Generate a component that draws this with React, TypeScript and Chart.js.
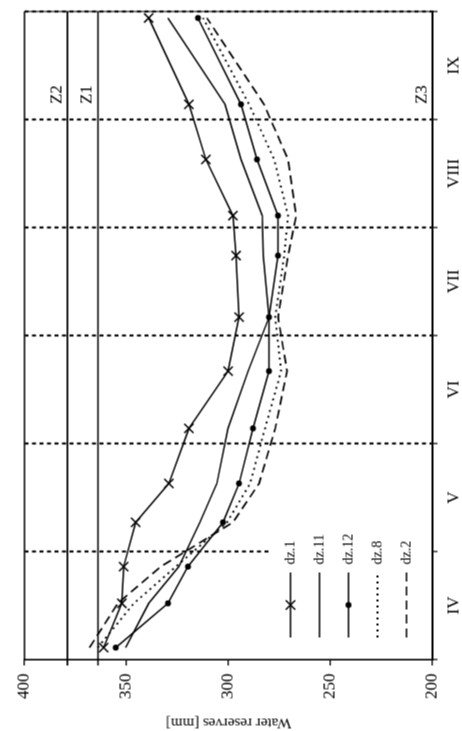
import React, { useEffect, useRef } from "react";
import { Chart, registerables } from "chart.js";

Chart.register(...registerables);

// ---- data (time axis in months from 1 April; values in mm) ----
const months = ["IV", "V", "VI", "VII", "VIII", "IX"];
const dates = [0.11, 0.52, 0.86, 1.27, 1.63, 2.14, 2.67, 3.17, 3.74, 4.11, 4.63, 5.14, 5.94];
const dz1 = [361.2, 352.3, 351.4, 345.5, 329.2, 319.4, 300.2, 294.8, 296.3, 297.8, 311.1, 319.4, 339.1];
const dz11 = [350.4, 339.1, 324.3, 314.0, 305.7, 300.2, 290.4, 280.1, 283.0, 283.5, 293.9, 301.7, 329.7];
const dz12 = [355.3, 329.7, 319.9, 302.7, 294.8, 288.0, 280.1, 280.1, 275.7, 275.7, 286.0, 293.9, 315.0];
const dz8 = [364.1, 346.4, 325.8, 300.7, 289.4, 282.1, 274.2, 277.1, 272.7, 270.8, 277.6, 289.9, 312.5];
const dz2 = [368.1, 354.3, 333.2, 297.8, 285.0, 277.1, 271.3, 275.7, 270.8, 266.8, 270.8, 282.6, 310.6];
const seriesNames = ["dz.1", "dz.11", "dz.12", "dz.8", "dz.2"];
const zNames = ["Z2", "Z1", "Z3"];
const zValues = [379, 364, 200];
const yTicks = [200, 250, 300, 350, 400];
const zLabelAt = 5.23;

const FONT = "'Liberation Serif', 'Times New Roman', serif";
const INK = "#000";

const toPts = (vals: number[]) => vals.map((v, i) => ({ x: dates[i], y: v }));

const overlay = {
  id: "overlay",
  beforeDatasetsDraw(chart: any) {
    const { ctx, chartArea, scales } = chart;
    const { left, right, top, bottom } = chartArea;
    const x = scales.x;
    const y = scales.y;
    ctx.save();
    ctx.strokeStyle = INK;
    ctx.setLineDash([]);
    // top border (value 400)
    ctx.lineWidth = 1.6;
    ctx.beginPath();
    ctx.moveTo(left, top);
    ctx.lineTo(right, top);
    ctx.stroke();
    // right border (end of season)
    ctx.lineWidth = 1;
    ctx.beginPath();
    ctx.moveTo(right, top);
    ctx.lineTo(right, bottom);
    ctx.stroke();
    // Z levels
    ctx.lineWidth = 1.6;
    zValues.forEach((v) => {
      if (v <= y.min) return;
      const py = y.getPixelForValue(v);
      ctx.beginPath();
      ctx.moveTo(left - 6, py);
      ctx.lineTo(right, py);
      ctx.stroke();
    });
    // month boundaries
    const legendTop = bottom - 142 - 8;
    ctx.setLineDash([4, 3.5]);
    ctx.lineWidth = 2.2;
    ctx.strokeStyle = "#111";
    for (let m = 1; m <= months.length; m++) {
      const px = x.getPixelForValue(m);
      const endY = m === 1 ? legendTop - 12 : bottom;
      ctx.beginPath();
      ctx.moveTo(px, top);
      ctx.lineTo(px, endY);
      ctx.stroke();
    }
    // month tick marks
    ctx.setLineDash([]);
    ctx.strokeStyle = INK;
    ctx.lineWidth = 1.2;
    for (let m = 0; m <= months.length; m++) {
      const px = x.getPixelForValue(m);
      ctx.beginPath();
      ctx.moveTo(px, bottom);
      ctx.lineTo(px, bottom + 5);
      ctx.stroke();
    }
    // Z labels
    ctx.fillStyle = INK;
    ctx.font = `17px ${FONT}`;
    ctx.textAlign = "center";
    ctx.textBaseline = "bottom";
    const lx = x.getPixelForValue(zLabelAt);
    zValues.forEach((v, i) => {
      const py = y.getPixelForValue(v);
      ctx.fillText(zNames[i], lx, py - 2);
    });
    ctx.restore();
  },
  afterDatasetsDraw(chart: any) {
    const { ctx, chartArea } = chart;
    const { left, bottom } = chartArea;
    ctx.save();
    chart.data.datasets.forEach((ds: any, i: number) => {
      const cy = bottom - 142 + i * 29;
      const x0 = left + 22;
      const x1 = left + 87;
      ctx.strokeStyle = ds.borderColor;
      ctx.lineWidth = ds.borderWidth;
      ctx.setLineDash(ds.borderDash || []);
      ctx.beginPath();
      ctx.moveTo(x0, cy);
      ctx.lineTo(x1, cy);
      ctx.stroke();
      ctx.setLineDash([]);
      const mx = (x0 + x1) / 2;
      if (ds.pointStyle === "crossRot" && ds.pointRadius > 0) {
        const r = ds.pointRadius * 0.72;
        ctx.lineWidth = ds.pointBorderWidth || 1.2;
        ctx.beginPath();
        ctx.moveTo(mx - r, cy - r);
        ctx.lineTo(mx + r, cy + r);
        ctx.moveTo(mx - r, cy + r);
        ctx.lineTo(mx + r, cy - r);
        ctx.stroke();
      } else if (ds.pointStyle === "circle" && ds.pointRadius > 0) {
        ctx.fillStyle = ds.borderColor;
        ctx.beginPath();
        ctx.arc(mx, cy, ds.pointRadius, 0, Math.PI * 2);
        ctx.fill();
      }
      ctx.fillStyle = INK;
      ctx.font = `14px ${FONT}`;
      ctx.textAlign = "left";
      ctx.textBaseline = "middle";
      ctx.fillText(ds.label, x1 + 8, cy);
    });
    ctx.restore();
  },
};

export default function App() {
  const ref = useRef<HTMLCanvasElement>(null);

  useEffect(() => {
    if (!ref.current) return;
    const base = { borderColor: INK, backgroundColor: INK, tension: 0, fill: false };
    const chart = new Chart(ref.current, {
      type: "line",
      data: {
        datasets: [
          {
            ...base,
            label: seriesNames[0],
            data: toPts(dz1),
            borderWidth: 1.5,
            pointStyle: "crossRot",
            pointRadius: 6.5,
            pointBorderWidth: 1.5,
            pointBorderColor: INK,
          },
          { ...base, label: seriesNames[1], data: toPts(dz11), borderWidth: 1.5, pointRadius: 0, pointStyle: "none" },
          {
            ...base,
            label: seriesNames[2],
            data: toPts(dz12),
            borderWidth: 1.5,
            pointStyle: "circle",
            pointRadius: 3,
            pointBackgroundColor: INK,
            pointBorderWidth: 0,
          },
          { ...base, label: seriesNames[3], data: toPts(dz8), borderWidth: 1.8, borderDash: [2, 4], pointRadius: 0, pointStyle: "none" },
          { ...base, label: seriesNames[4], data: toPts(dz2), borderWidth: 1.7, borderDash: [9, 5], pointRadius: 0, pointStyle: "none" },
        ] as any,
      },
      options: {
        animation: false,
        responsive: false,
        devicePixelRatio: 1,
        layout: { padding: { top: 24, right: 11, left: 0, bottom: 0 } },
        plugins: { legend: { display: false }, tooltip: { enabled: false } },
        scales: {
          x: {
            type: "linear",
            min: 0,
            max: months.length,
            afterBuildTicks: (scale: any) => {
              scale.ticks = months.map((_, i) => ({ value: i + 0.5 }));
            },
            afterFit: (scale: any) => {
              scale.height = 30;
            },
            ticks: {
              autoSkip: false,
              maxRotation: 0,
              padding: 11,
              color: INK,
              font: { family: FONT, size: 17 },
              callback: (_v: any, i: number) => months[i],
            },
            grid: { display: false, drawTicks: false },
            border: { display: true, color: INK, width: 2 },
          },
          y: {
            min: 200,
            max: 400,
            afterBuildTicks: (scale: any) => {
              scale.ticks = yTicks.map((v) => ({ value: v }));
            },
            afterFit: (scale: any) => {
              scale.width = 72;
            },
            ticks: {
              padding: 8,
              color: INK,
              font: { family: FONT, size: 17 },
            },
            grid: { drawOnChartArea: false, drawTicks: true, tickLength: 6, color: INK, lineWidth: 1.3 },
            border: { display: true, color: INK, width: 1.6 },
            title: {
              display: true,
              text: "Water reserves [mm]",
              color: INK,
              font: { family: FONT, size: 15 },
              padding: { top: 0, bottom: 0 },
            },
          },
        },
      } as any,
      plugins: [overlay],
    });
    return () => chart.destroy();
  }, []);

  return (
    <div
      style={{
        position: "fixed",
        left: 0,
        top: 0,
        width: 462,
        height: 731,
        overflow: "hidden",
        background: "#fff",
      }}
    >
      <div
        style={{
          position: "absolute",
          left: (462 - 731) / 2,
          top: (731 - 462) / 2,
          width: 731,
          height: 462,
          transform: "rotate(-90deg)",
          transformOrigin: "50% 50%",
        }}
      >
        <canvas ref={ref} width={731} height={462} style={{ display: "block", width: 731, height: 462 }} />
      </div>
    </div>
  );
}
